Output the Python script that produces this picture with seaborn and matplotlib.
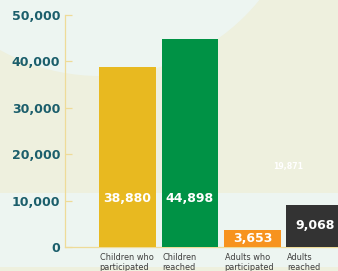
import matplotlib
matplotlib.use("Agg")
import matplotlib.pyplot as plt
import matplotlib.patches as mpatches
import seaborn as sns
import numpy as np

# chart data
categories = ["Children who\nparticipated", "Children\nreached", "Adults who\nparticipated", "Adults\nreached"]
values = [38880, 44898, 3653, 9068]
bar_colors = ["#e8b920", "#009245", "#f7931e", "#333333"]
y_ticks = [0, 10000, 20000, 30000, 40000, 50000]
hidden_label = "19,871"

teal = "#1b5e6b"
mint = "#edf5f1"
beige = "#eef0de"
axis_col = "#eedb98"

sns.set_style("white")
plt.rcParams['font.family'] = ['DejaVu Sans']

fig = plt.figure(figsize=(3.38, 2.71), dpi=100)
fig.patch.set_facecolor(mint)

# decorative background: beige band with a mint circle cut out top-left
W, H = 338.0, 271.0
bg = [
    mpatches.Rectangle((0, 1 - 193 / H), 1, 193 / H, facecolor=beige),
    mpatches.Ellipse((100 / W, 1 + 129 / H), 410 / W, 410 / H, facecolor=mint),
    mpatches.Rectangle((0, 0), 1, 4 / H, facecolor=beige),
]
for p in bg:
    p.set_transform(fig.transFigure)
    p.set_edgecolor("none")
    p.set_zorder(-10)
    fig.patches.append(p)

# faint leftover label in the background
fig.text(288 / W, 1 - 167 / H, hidden_label, ha="center", va="center", color="white",
         fontsize=5.6, fontweight="bold", zorder=-5)

ax = fig.add_axes([65 / W, 1 - 247 / H, 1 - 65 / W, 232 / H])
ax.set_facecolor("none")
ax.set_zorder(1)

bar_w = 0.91
sns.barplot(x=categories, y=values, hue=categories, palette=bar_colors, width=bar_w,
            ax=ax, legend=False, saturation=1, edgecolor="none", linewidth=0)

ax.set_xlim(-1, 3.37)
ax.set_ylim(0, 50000)
ax.set_yticks(y_ticks)
ax.set_yticklabels([f"{t:,}" for t in y_ticks], fontsize=9, fontweight="bold", color=teal)
ax.tick_params(axis="y", left=True, direction="in", length=5, width=0.9, color=axis_col, pad=3.5)
ax.set_xticks([])
ax.set_xlabel("")
ax.set_ylabel("")

for s in ["top", "right"]:
    ax.spines[s].set_visible(False)
ax.spines["left"].set_color(axis_col)
ax.spines["left"].set_linewidth(0.9)
ax.spines["bottom"].set_color(axis_col)
ax.spines["bottom"].set_linewidth(0.9)
ax.spines["bottom"].set_zorder(0)

# value labels inside bars
for i, v in enumerate(values):
    ax.text(i, min(v / 2, 10500), f"{v:,}", ha="center", va="center", color="white",
            fontsize=9, fontweight="bold", zorder=5)

# category labels under the bars, left aligned
for i, c in enumerate(categories):
    ax.annotate(c, xy=(i - bar_w / 2, 0), xytext=(0.5, -4), textcoords="offset points",
                ha="left", va="top", fontsize=5.9, color="#3d3d3d", linespacing=1.2,
                annotation_clip=False)

fig.savefig("out.png", dpi=100, facecolor=fig.get_facecolor())
